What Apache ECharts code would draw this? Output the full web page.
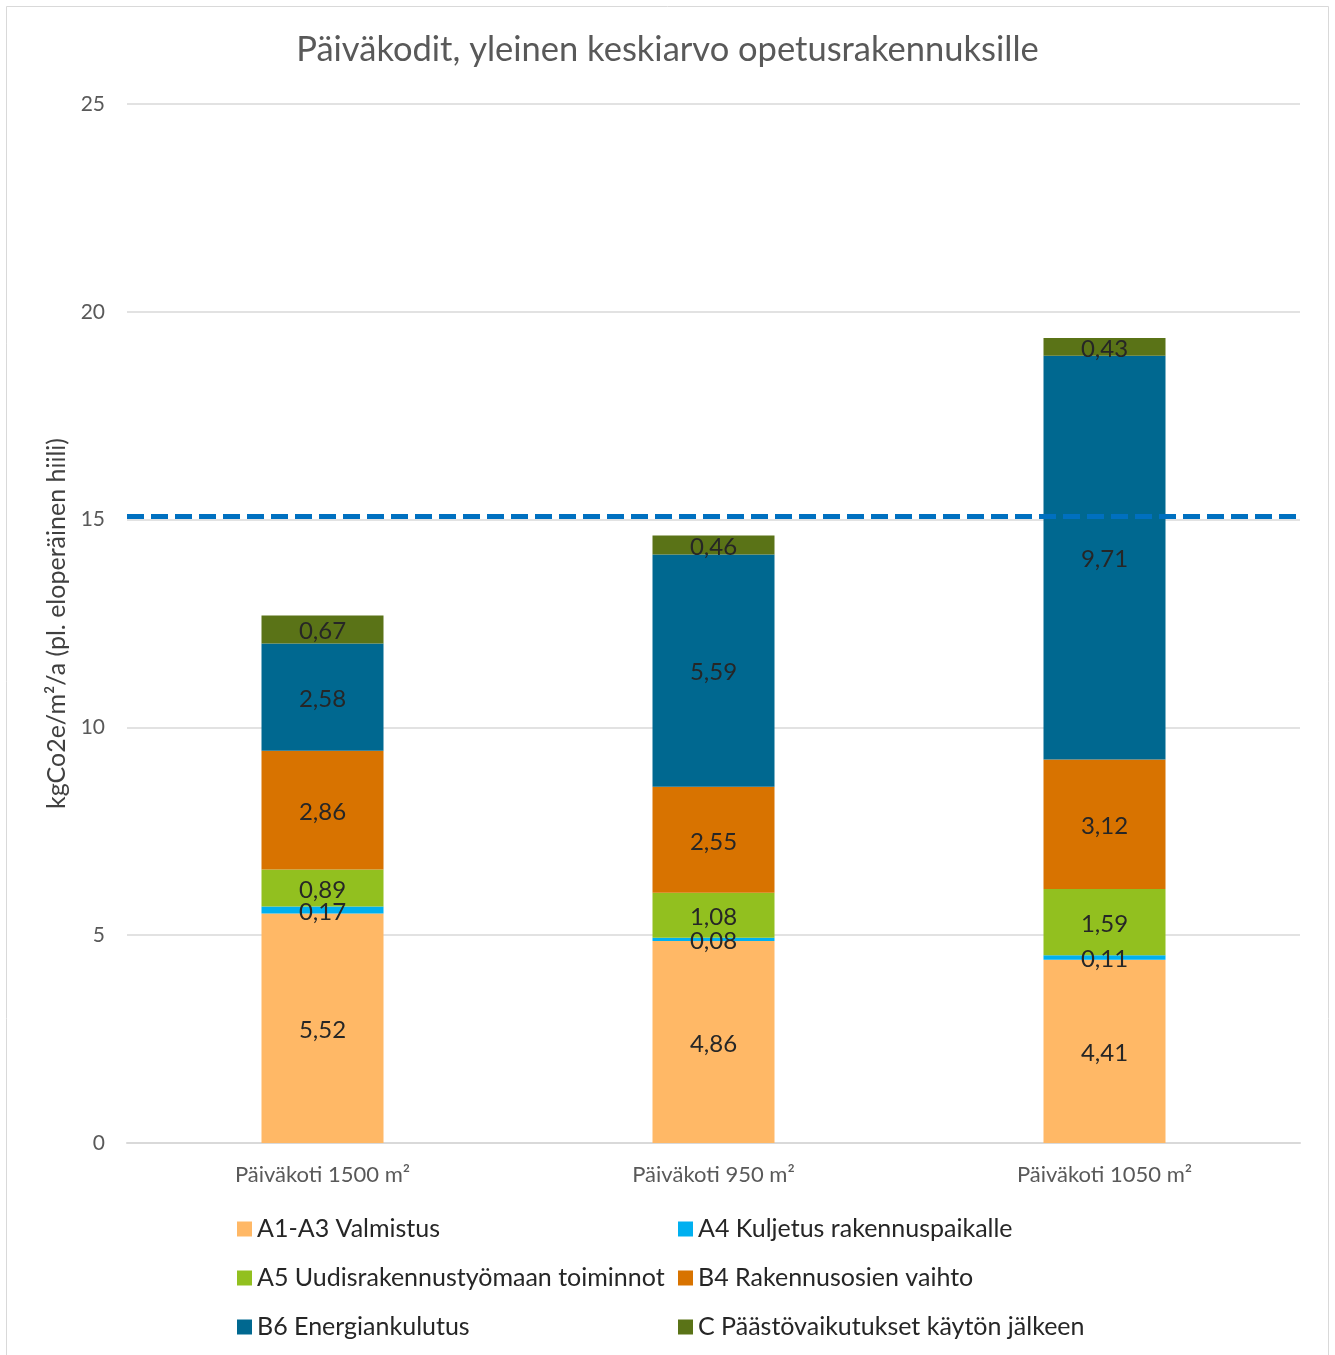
<!DOCTYPE html>
<html>
<head>
<meta charset="utf-8">
<title>Päiväkodit</title>
<script src="https://cdn.jsdelivr.net/npm/echarts@6/dist/echarts.min.js"></script>
<style>
  html, body { margin: 0; padding: 0; background: #fff; }
  #chart { width: 1335px; height: 1355px; }
</style>
</head>
<body>
<div id="chart"></div>
<script>
// Categories (buildings) and emission components, kgCO2e/m²/a
const categories = ['Päiväkoti 1500 m²', 'Päiväkoti 950 m²', 'Päiväkoti 1050 m²'];
const seriesNames = [
  'A1-A3 Valmistus',
  'A4 Kuljetus rakennuspaikalle',
  'A5 Uudisrakennustyömaan toiminnot',
  'B4 Rakennusosien vaihto',
  'B6 Energiankulutus',
  'C Päästövaikutukset käytön jälkeen'
];
const a1a3 = [5.52, 4.86, 4.41];
const a4 = [0.17, 0.08, 0.11];
const a5 = [0.89, 1.08, 1.59];
const b4 = [2.86, 2.55, 3.12];
const b6 = [2.58, 5.59, 9.71];
const c = [0.67, 0.46, 0.43];
const average = 15.07;
const yTicks = [0, 5, 10, 15, 20, 25];

const seriesValues = [a1a3, a4, a5, b4, b6, c];
const colors = ['#FFB866', '#00B0F0', '#92C01F', '#D87300', '#006890', '#5A7317'];
const FONT = 'Lato';

const fmt = v => v.toFixed(2).replace('.', ',');

const series = seriesNames.map((name, i) => ({
  name,
  type: 'bar',
  stack: 'total',
  barWidth: 122,
  data: seriesValues[i],
  itemStyle: { color: colors[i] },
  label: {
    show: true,
    position: 'inside',
    offset: [0, 2],
    color: '#262626',
    fontFamily: FONT,
    fontSize: 24,
    formatter: p => fmt(p.value)
  },
  emphasis: { disabled: true }
}));

// Average reference line across the plot
series[0].markLine = {
  silent: true,
  symbol: 'none',
  label: { show: false },
  lineStyle: { color: '#0070C0', width: 5, type: [17, 7], opacity: 1 },
  data: [{ yAxis: average }]
};

const legendCommon = {
  orient: 'vertical',
  top: 1211,
  itemWidth: 15,
  itemHeight: 15,
  itemGap: 23,
  icon: 'rect',
  selectedMode: false,
  textStyle: { color: '#262626', fontFamily: FONT, fontSize: 25, lineHeight: 26 }
};

const chart = echarts.init(document.getElementById('chart'), null, { renderer: 'canvas' });
chart.setOption({
  animation: false,
  backgroundColor: '#ffffff',
  title: {
    text: 'Päiväkodit, yleinen keskiarvo opetusrakennuksille',
    left: 'center',
    top: 27,
    textStyle: { color: '#595959', fontFamily: FONT, fontSize: 34.5, fontWeight: 'normal' }
  },
  graphic: [{
    type: 'rect',
    shape: { x: 6.5, y: 6.5, width: 1322, height: 1360 },
    style: { fill: 'none', stroke: '#d9d9d9', lineWidth: 1 },
    silent: true
  }],
  legend: [
    Object.assign({ left: 232, data: [seriesNames[0], seriesNames[2], seriesNames[4]] }, legendCommon),
    Object.assign({ left: 673, data: [seriesNames[1], seriesNames[3], seriesNames[5]] }, legendCommon)
  ],
  grid: { left: 127, right: 35, top: 104, bottom: 212 },
  xAxis: {
    type: 'category',
    data: categories,
    axisLine: { lineStyle: { color: '#d9d9d9', width: 2 } },
    axisTick: { show: false },
    axisLabel: { color: '#595959', fontFamily: FONT, fontSize: 22, margin: 21 }
  },
  yAxis: {
    type: 'value',
    min: yTicks[0],
    max: yTicks[yTicks.length - 1],
    interval: yTicks[1] - yTicks[0],
    name: 'kgCo2e/m²/a (pl. eloperäinen hiili)',
    nameLocation: 'middle',
    nameGap: 56,
    nameTextStyle: { color: '#404040', fontFamily: FONT, fontSize: 25 },
    axisLine: { show: false },
    axisTick: { show: false },
    axisLabel: { color: '#595959', fontFamily: FONT, fontSize: 21, margin: 22 },
    splitLine: { lineStyle: { color: '#d9d9d9', width: 1.5 } }
  },
  series
});
</script>
</body>
</html>
